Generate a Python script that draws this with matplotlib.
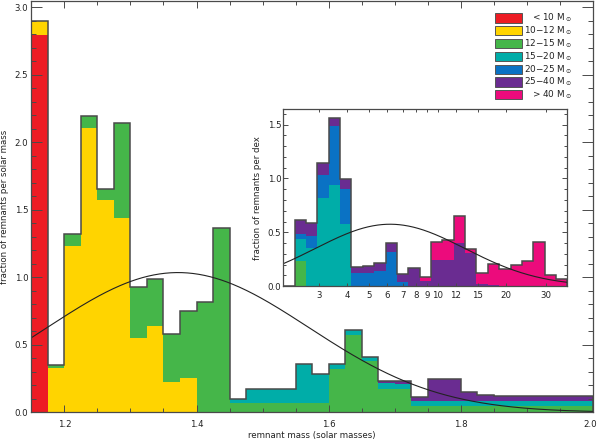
import numpy as np
import matplotlib
matplotlib.use("Agg")
import matplotlib.pyplot as plt
import matplotlib.transforms as mtransforms
from matplotlib.patches import Rectangle
from matplotlib.ticker import MultipleLocator, FixedLocator, FormatStrFormatter, NullLocator

# progenitor mass groups (legend order) and their colours
GROUP_LABELS = ["< 10 M$_\\odot$", "10\u221212 M$_\\odot$", "12\u221215 M$_\\odot$",
                "15\u221220 M$_\\odot$", "20\u221225 M$_\\odot$", "25\u221240 M$_\\odot$",
                "> 40 M$_\\odot$"]
GROUP_COLORS = ["#ED1C24", "#FFD400", "#45B649", "#00ADA8", "#0A72C4", "#6A2C91", "#EC0B7C"]

# main panel: neutron-star remnant masses, bins of 0.025 Msun from 1.15
MAIN_BIN_START = 1.15
MAIN_BIN_WIDTH = 0.025
main_lt10 = [2.795, 0, 0, 0, 0, 0, 0, 0, 0, 0, 0, 0, 0, 0, 0, 0, 0,
             0, 0, 0, 0, 0, 0, 0, 0, 0, 0, 0, 0, 0, 0, 0, 0, 0]
main_10_12 = [0.105, 0.326, 1.232, 2.108, 1.570, 1.438, 0.553, 0.639, 0.227, 0.257, 0, 0, 0, 0, 0, 0, 0,
              0, 0, 0, 0, 0, 0, 0, 0, 0, 0, 0, 0, 0, 0, 0, 0, 0]
main_12_15 = [0, 0.027, 0.088, 0.089, 0.087, 0.705, 0.377, 0.346, 0.350, 0.493, 0.820, 1.363, 0.071, 0.071, 0.071, 0.071, 0.071,
              0.071, 0.322, 0.570, 0.380, 0.174, 0.170, 0.047, 0.047, 0.047, 0.047, 0.047, 0.047, 0.047, 0.047, 0.047, 0.047, 0.047]
main_15_20 = [0, 0, 0, 0, 0, 0, 0, 0, 0, 0, 0, 0, 0.026, 0.102, 0.102, 0.102, 0.287,
              0.213, 0.038, 0.040, 0.032, 0.041, 0.042, 0.037, 0.037, 0.037, 0.037, 0.037, 0.037, 0.037, 0.037, 0.037, 0.037, 0.037]
main_20_25 = [0] * 34
main_25_40 = [0, 0, 0, 0, 0, 0, 0, 0, 0, 0, 0, 0, 0, 0, 0, 0, 0,
              0, 0, 0, 0, 0.016, 0.020, 0.029, 0.160, 0.166, 0.064, 0.042, 0.034, 0.034, 0.034, 0.034, 0.034, 0.034]
main_gt40 = [0] * 34

# fitted normal curve over the main histogram
MAIN_FIT_MEAN = 1.372
MAIN_FIT_SIGMA = 0.198
MAIN_FIT_PEAK = 1.035

# inset: black-hole remnant masses, bins of 0.05 dex from log10(M) = 0.32
INSET_LOG_START = 0.32
INSET_LOG_WIDTH = 0.05
inset_lt10 = [0] * 25
inset_10_12 = [0] * 25
inset_12_15 = [0, 0.235, 0, 0, 0, 0, 0, 0, 0, 0, 0, 0, 0,
               0, 0, 0, 0, 0, 0, 0, 0, 0, 0, 0, 0]
inset_15_20 = [0, 0.203, 0.355, 0.823, 0.938, 0.575, 0, 0, 0, 0, 0, 0, 0,
               0, 0, 0, 0, 0, 0, 0, 0, 0, 0, 0, 0]
inset_20_25 = [0, 0.047, 0.114, 0.211, 0.553, 0.329, 0.120, 0.125, 0.142, 0.315, 0.041, 0, 0,
               0, 0, 0, 0, 0, 0, 0, 0, 0, 0, 0, 0]
inset_25_40 = [0, 0.130, 0.121, 0.109, 0.071, 0.090, 0.059, 0.060, 0.075, 0.081, 0.075, 0.164, 0.045,
               0.243, 0.242, 0.398, 0.304, 0.020, 0.008, 0, 0, 0, 0, 0, 0]
inset_gt40 = [0, 0, 0, 0, 0, 0, 0, 0, 0, 0, 0, 0, 0.037,
              0.165, 0.187, 0.257, 0.038, 0.098, 0.194, 0.158, 0.196, 0.233, 0.407, 0.100, 0.062]

INSET_FIT_LOGMEAN = 0.79
INSET_FIT_LOGSIGMA = 0.33
INSET_FIT_PEAK = 0.575
INSET_XTICKS = [3, 4, 5, 6, 7, 8, 9, 10, 12, 15, 20, 30]

FS = 6.2
EDGE = "#4a4a4a"
TXT = "#222222"
W, H = 598, 441

plt.rcParams["font.family"] = ["DejaVu Sans"]


def stacked(ax, edges, groups):
    lefts = edges[:-1]
    widths = np.diff(edges)
    bottom = np.zeros(len(lefts))
    for vals, color in zip(groups, GROUP_COLORS):
        vals = np.asarray(vals, dtype=float)
        if not vals.any():
            continue
        ax.bar(lefts, vals, width=widths, bottom=bottom, align="edge",
               color=color, linewidth=0)
        bottom += vals
    ax.stairs(bottom, edges, color=EDGE, linewidth=1.1, baseline=0)


def style_axes(ax):
    for sp in ax.spines.values():
        sp.set_color(EDGE)
        sp.set_linewidth(0.9)
    ax.tick_params(which="both", direction="in", top=True, right=True,
                   colors=EDGE, labelcolor=TXT, labelsize=FS, width=0.7)


fig = plt.figure(figsize=(W / 100, H / 100), dpi=100)

# ---- main panel
ax = fig.add_axes([31.3 / W, (H - 412.3) / H, 561.7 / W, 411.1 / H])
n_main = len(main_12_15)
main_edges = MAIN_BIN_START + MAIN_BIN_WIDTH * np.arange(n_main + 1)
stacked(ax, main_edges, [main_lt10, main_10_12, main_12_15, main_15_20,
                         main_20_25, main_25_40, main_gt40])
xm = np.linspace(main_edges[0], main_edges[-1], 400)
ax.plot(xm, MAIN_FIT_PEAK * np.exp(-0.5 * ((xm - MAIN_FIT_MEAN) / MAIN_FIT_SIGMA) ** 2),
        color="#222222", linewidth=0.8)
ax.set_xlim(main_edges[0], main_edges[-1])
ax.set_ylim(0, 3.045)
style_axes(ax)
ax.xaxis.set_major_locator(MultipleLocator(0.2))
ax.xaxis.set_minor_locator(MultipleLocator(0.05))
ax.yaxis.set_major_locator(MultipleLocator(0.5))
ax.yaxis.set_minor_locator(MultipleLocator(0.1))
ax.xaxis.set_major_formatter(FormatStrFormatter("%.1f"))
ax.yaxis.set_major_formatter(FormatStrFormatter("%.1f"))
ax.tick_params(axis="y", which="major", length=7.9, pad=2.2)
ax.tick_params(axis="y", which="minor", length=3.8)
ax.tick_params(axis="x", which="major", length=4.8, pad=5.6)
ax.tick_params(axis="x", which="minor", length=2.6)
ax.set_xlabel("remnant mass (solar masses)", fontsize=FS, color=TXT, labelpad=1.5)
ax.set_ylabel("fraction of remnants per solar mass", fontsize=FS, color=TXT, labelpad=4)

# keep the "2.0" label at the right edge inside the canvas
fig.canvas.draw()
last = [t for t in ax.xaxis.get_major_ticks() if abs(t.get_loc() - 2.0) < 1e-6]
for t in last:
    t.label1.set_transform(t.label1.get_transform() +
                           mtransforms.ScaledTranslation(-3 / 100, 0, fig.dpi_scale_trans))

# ---- legend (drawn by hand, IDL style)
row0, step = 18.0, 12.8
for i, (lab, col) in enumerate(zip(GROUP_LABELS, GROUP_COLORS)):
    yc = row0 + i * step
    fig.patches.append(Rectangle((495 / W, 1 - (yc + 4.6) / H), 27 / W, 9.2 / H,
                                 transform=fig.transFigure, facecolor=col,
                                 edgecolor="#555555", linewidth=0.7))
    fig.text(572 / W, 1 - (yc + 2.8) / H, lab, ha="right", va="baseline",
             fontsize=6.4, color=TXT)

# ---- inset
axi = fig.add_axes([283.3 / W, (H - 286.1) / H, 284 / W, 176.8 / H])
axi.set_facecolor("white")
n_in = len(inset_gt40)
inset_edges = 10 ** (INSET_LOG_START + INSET_LOG_WIDTH * np.arange(n_in + 1))
axi.set_xscale("log")
stacked(axi, inset_edges, [inset_lt10, inset_10_12, inset_12_15, inset_15_20,
                           inset_20_25, inset_25_40, inset_gt40])
lx = np.linspace(np.log10(inset_edges[0]), np.log10(inset_edges[-1]), 400)
axi.plot(10 ** lx, INSET_FIT_PEAK * np.exp(-0.5 * ((lx - INSET_FIT_LOGMEAN) / INSET_FIT_LOGSIGMA) ** 2),
         color="#222222", linewidth=0.8)
axi.set_xlim(inset_edges[0], inset_edges[-1])
axi.set_ylim(0, 1.643)
style_axes(axi)
axi.xaxis.set_major_locator(FixedLocator(INSET_XTICKS))
axi.xaxis.set_minor_locator(NullLocator())
axi.xaxis.set_major_formatter(FormatStrFormatter("%d"))
axi.yaxis.set_major_locator(MultipleLocator(0.5))
axi.yaxis.set_minor_locator(MultipleLocator(0.1))
axi.yaxis.set_major_formatter(FormatStrFormatter("%.1f"))
axi.tick_params(axis="y", which="major", length=3.6, pad=1.5)
axi.tick_params(axis="y", which="minor", length=2.0)
axi.tick_params(axis="x", which="major", length=2.5, pad=3.6)
axi.set_ylabel("fraction of remnants per dex", fontsize=FS, color=TXT, labelpad=4)

fig.savefig("out.png", dpi=100, facecolor="white")
